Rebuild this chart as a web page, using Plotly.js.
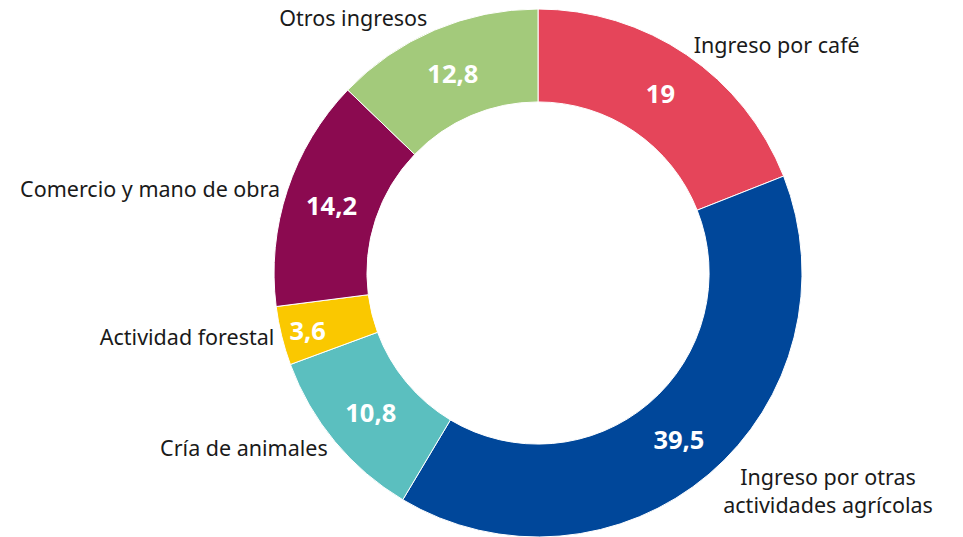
<!DOCTYPE html>
<html>
<head>
<meta charset="utf-8">
<script src="https://cdn.plot.ly/plotly-3.0.1.min.js"></script>
<style>html,body{margin:0;padding:0;background:#fff;}#chart{width:963px;height:537px;}</style>
</head>
<body>
<div id="chart"></div>
<script>
const categories = ["Ingreso por café", "Ingreso por otras<br>actividades agrícolas", "Cría de animales", "Actividad forestal", "Comercio y mano de obra", "Otros ingresos"];
const values = [19, 39.5, 10.8, 3.6, 14.2, 12.8];
const valueLabels = ["19", "39,5", "10,8", "3,6", "14,2", "12,8"];
const colors = ["#E5455A", "#00479A", "#5BBFBF", "#FAC800", "#8B0A50", "#A3CA7B"];

const domain = {x: [0.2, 0.9174], y: [0, 1]};
const common = {
  type: "pie", values: values, labels: categories, sort: false, direction: "clockwise",
  rotation: 0, hole: 0.648, domain: domain, hoverinfo: "skip"
};
const inner = Object.assign({}, common, {
  marker: {colors: colors, line: {color: "#ffffff", width: 1}},
  text: valueLabels, textinfo: "text", textposition: "inside",
  insidetextorientation: "horizontal",
  insidetextfont: {family: "Noto Sans", size: 25.5, color: "#ffffff", weight: "bold"}
});
const outer = Object.assign({}, common, {
  marker: {colors: colors.map(() => "rgba(0,0,0,0)"), line: {width: 0}},
  text: categories, textinfo: "text", textposition: "outside",
  outsidetextfont: {family: "Noto Sans", size: 21.5, color: "#1a1a1a"}
});

Plotly.newPlot("chart", [inner, outer], {
  width: 963, height: 537, showlegend: false,
  margin: {l: 0, r: 0, t: 9, b: 0},
  paper_bgcolor: "#ffffff", font: {family: "Noto Sans"}
}, {staticPlot: true});
</script>
</body>
</html>
